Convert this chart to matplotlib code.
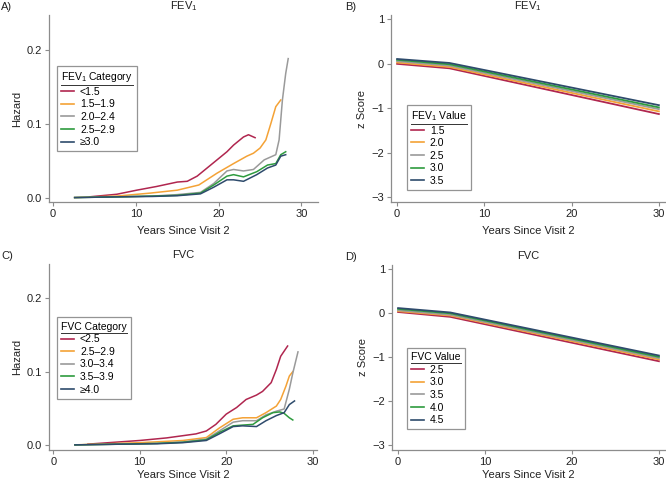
import matplotlib
matplotlib.use("Agg")
import matplotlib.pyplot as plt
from matplotlib.lines import Line2D

plt.rcParams["font.family"] = ["Liberation Sans", "DejaVu Sans"]
plt.rcParams["mathtext.fontset"] = "custom"
plt.rcParams["mathtext.rm"] = "Liberation Sans"
plt.rcParams["mathtext.it"] = "Liberation Sans:italic"

# ===== Data =====
colors = ["#B0264F", "#F4A236", "#9A9A9A", "#2E9B3E", "#2E4B6C"]

# Panel A: hazard by FEV1 category
fev_cats = ["<1.5", "1.5\u20131.9", "2.0\u20132.4", "2.5\u20132.9", "\u22653.0"]
fev_haz_x = [
    [4.4, 7.7, 10.1, 12.5, 15.0, 16.2, 17.4, 18.6, 19.8, 21.0, 21.8, 23.0, 23.6, 24.4],
    [2.6, 5.0, 7.7, 11.7, 15.0, 17.6, 19.8, 21.8, 23.4, 24.2, 25.0, 25.7, 26.3, 26.9, 27.5],
    [2.6, 8.0, 12.0, 15.0, 17.8, 19.4, 21.0, 21.8, 23.0, 24.2, 25.5, 26.3, 26.9, 27.3, 27.7, 28.1, 28.4],
    [2.6, 8.0, 12.0, 15.0, 17.8, 19.4, 21.0, 21.8, 23.0, 24.6, 25.9, 26.9, 27.5, 28.1],
    [2.6, 8.0, 12.0, 15.0, 17.8, 19.4, 21.0, 21.8, 23.0, 24.6, 25.9, 26.9, 27.5, 28.1],
]
fev_haz_y = [
    [0.001, 0.0045, 0.010, 0.015, 0.021, 0.022, 0.029, 0.040, 0.051, 0.062, 0.071, 0.082, 0.085, 0.081],
    [0.0, 0.001, 0.002, 0.006, 0.010, 0.017, 0.033, 0.046, 0.056, 0.060, 0.067, 0.078, 0.100, 0.123, 0.132],
    [0.0, 0.001, 0.002, 0.004, 0.007, 0.019, 0.036, 0.038, 0.036, 0.038, 0.051, 0.055, 0.058, 0.078, 0.132, 0.168, 0.188],
    [0.0, 0.001, 0.002, 0.003, 0.006, 0.017, 0.029, 0.031, 0.028, 0.035, 0.044, 0.046, 0.058, 0.062],
    [0.0, 0.001, 0.0015, 0.0025, 0.005, 0.014, 0.024, 0.024, 0.022, 0.031, 0.040, 0.044, 0.056, 0.058],
]

# Panel B: z score by FEV1 value
fev_vals = ["1.5", "2.0", "2.5", "3.0", "3.5"]
z_x = [0, 6, 30]
fev_z = [
    [0.00, -0.10, -1.13],
    [0.03, -0.07, -1.07],
    [0.06, -0.04, -1.02],
    [0.09, -0.01, -0.98],
    [0.11, 0.02, -0.93],
]

# Panel C: hazard by FVC category
fvc_cats = ["<2.5", "2.5\u20132.9", "3.0\u20133.4", "3.5\u20133.9", "\u22654.0"]
fvc_haz_x = [
    [4.0, 10.0, 13.1, 16.5, 17.7, 18.8, 20.0, 21.2, 22.3, 23.5, 24.2, 25.2, 25.8, 26.3, 27.1],
    [2.5, 10.0, 15.0, 17.7, 19.2, 20.8, 21.9, 23.5, 24.6, 25.8, 26.3, 26.9, 27.3, 27.7],
    [2.5, 8.0, 12.0, 15.0, 17.7, 19.2, 20.8, 21.9, 23.5, 24.6, 25.8, 26.7, 27.3, 27.7, 28.3],
    [2.5, 8.0, 12.0, 15.0, 17.7, 19.2, 20.8, 21.9, 23.1, 24.2, 25.4, 26.2, 26.7, 27.3, 27.7],
    [2.5, 8.0, 12.0, 15.0, 17.7, 19.2, 20.8, 21.9, 23.5, 24.6, 25.8, 26.7, 27.3, 27.9],
]
fvc_haz_y = [
    [0.001, 0.006, 0.0095, 0.015, 0.019, 0.028, 0.042, 0.051, 0.062, 0.068, 0.073, 0.085, 0.103, 0.121, 0.135],
    [0.0, 0.003, 0.006, 0.010, 0.023, 0.035, 0.037, 0.037, 0.044, 0.053, 0.062, 0.080, 0.094, 0.100],
    [0.0, 0.001, 0.002, 0.004, 0.008, 0.019, 0.031, 0.033, 0.033, 0.041, 0.046, 0.049, 0.076, 0.098, 0.127],
    [0.0, 0.001, 0.002, 0.0035, 0.007, 0.017, 0.026, 0.027, 0.028, 0.037, 0.044, 0.045, 0.043, 0.037, 0.034],
    [0.0, 0.001, 0.0015, 0.003, 0.006, 0.015, 0.025, 0.026, 0.025, 0.033, 0.040, 0.044, 0.055, 0.060],
]

# Panel D: z score by FVC value
fvc_vals = ["2.5", "3.0", "3.5", "4.0", "4.5"]
fvc_z = [
    [0.03, -0.08, -1.09],
    [0.05, -0.05, -1.05],
    [0.07, -0.03, -1.02],
    [0.10, 0.00, -0.99],
    [0.12, 0.02, -0.96],
]

# ===== Plot =====
fig = plt.figure(figsize=(6.66, 4.84), dpi=100)
W, H = 666, 484


def add_ax(left, top, right, bottom):
    return fig.add_axes([left / W, 1 - bottom / H, (right - left) / W, (bottom - top) / H])


axA = add_ax(49, 15, 318, 202)
axB = add_ax(391, 15, 665, 202)
axC = add_ax(49, 264, 317, 450)
axD = add_ax(392, 265, 665, 450)

spine_col = "#8C8C8C"
fs = 8


def style(ax, title, ylabel, xpad):
    for s in ["top", "right"]:
        ax.spines[s].set_visible(False)
    for s in ["left", "bottom"]:
        ax.spines[s].set_color(spine_col)
        ax.spines[s].set_linewidth(0.9)
    ax.tick_params(direction="out", length=3, width=0.8, color=spine_col,
                   labelsize=fs, labelcolor="#222222", pad=2)
    ax.set_title(title, fontsize=fs, pad=4, color="#222222")
    ax.set_ylabel(ylabel, fontsize=fs, color="#222222", labelpad=3)
    ax.set_xlabel("Years Since Visit 2", fontsize=fs, color="#222222", labelpad=xpad)
    ax.set_xticks([0, 10, 20, 30])


def add_legend(ax, labels, title, x, y):
    handles = [Line2D([], [], color=c, lw=1.2) for c in colors]
    leg = ax.legend(handles, labels, title=title, loc="upper left",
                    bbox_to_anchor=(x, y), borderaxespad=0, fontsize=7.5,
                    title_fontsize=7.5, handlelength=1.2, handletextpad=0.6,
                    labelspacing=0.25, frameon=True, fancybox=False,
                    edgecolor="#7A7A7A", borderpad=0.4)
    leg.get_frame().set_linewidth(0.9)
    leg._legend_box.align = "left"
    return leg


# A
for xs, ys, c in zip(fev_haz_x, fev_haz_y, colors):
    axA.plot(xs, ys, color=c, lw=1.1)
style(axA, "FEV$_1$", "Hazard", 5)
axA.set_xlim(-0.5, 32)
axA.set_ylim(-0.006, 0.247)
axA.set_yticks([0, 0.1, 0.2])
axA.set_yticklabels(["0.0", "0.1", "0.2"])
legA = add_legend(axA, fev_cats, "FEV$_1$ Category", 0.03, 0.727)

# B
for ys, c in zip(fev_z, colors):
    axB.plot(z_x, ys, color=c, lw=1.3)
style(axB, "FEV$_1$", "z Score", 5)
axB.set_xlim(-0.7, 30.7)
axB.set_ylim(-3.11, 1.1)
axB.set_yticks([-3, -2, -1, 0, 1])
legB = add_legend(axB, fev_vals, "FEV$_1$ Value", 0.058, 0.519)

# C
for xs, ys, c in zip(fvc_haz_x, fvc_haz_y, colors):
    axC.plot(xs, ys, color=c, lw=1.1)
style(axC, "FVC", "Hazard", 2)
axC.set_xlim(-0.5, 30.5)
axC.set_ylim(-0.007, 0.247)
axC.set_yticks([0, 0.1, 0.2])
axC.set_yticklabels(["0.0", "0.1", "0.2"])
legC = add_legend(axC, fvc_cats, "FVC Category", 0.03, 0.713)

# D
for ys, c in zip(fvc_z, colors):
    axD.plot(z_x, ys, color=c, lw=1.3)
style(axD, "FVC", "z Score", 2)
axD.set_xlim(-0.7, 30.7)
axD.set_ylim(-3.11, 1.1)
axD.set_yticks([-3, -2, -1, 0, 1])
legD = add_legend(axD, fvc_vals, "FVC Value", 0.055, 0.551)

# Panel letters
for lab, x, y in [("A)", 1, 7), ("B)", 345, 7), ("C)", 1, 256), ("D)", 345, 257)]:
    fig.text(x / W, 1 - y / H, lab, fontsize=fs, va="center", ha="left", color="#222222")

# Underline legend titles
fig.canvas.draw()
inv = fig.transFigure.inverted()
for leg in [legA, legB, legC, legD]:
    bb = leg.get_title().get_window_extent()
    (x0, y0), (x1, y1) = inv.transform([[bb.x0, bb.y0], [bb.x1, bb.y1]])
    fig.add_artist(Line2D([x0, x1], [y0 - 0.002, y0 - 0.002], color="#333333",
                          lw=0.7, transform=fig.transFigure))

fig.savefig("out.png", dpi=100)
